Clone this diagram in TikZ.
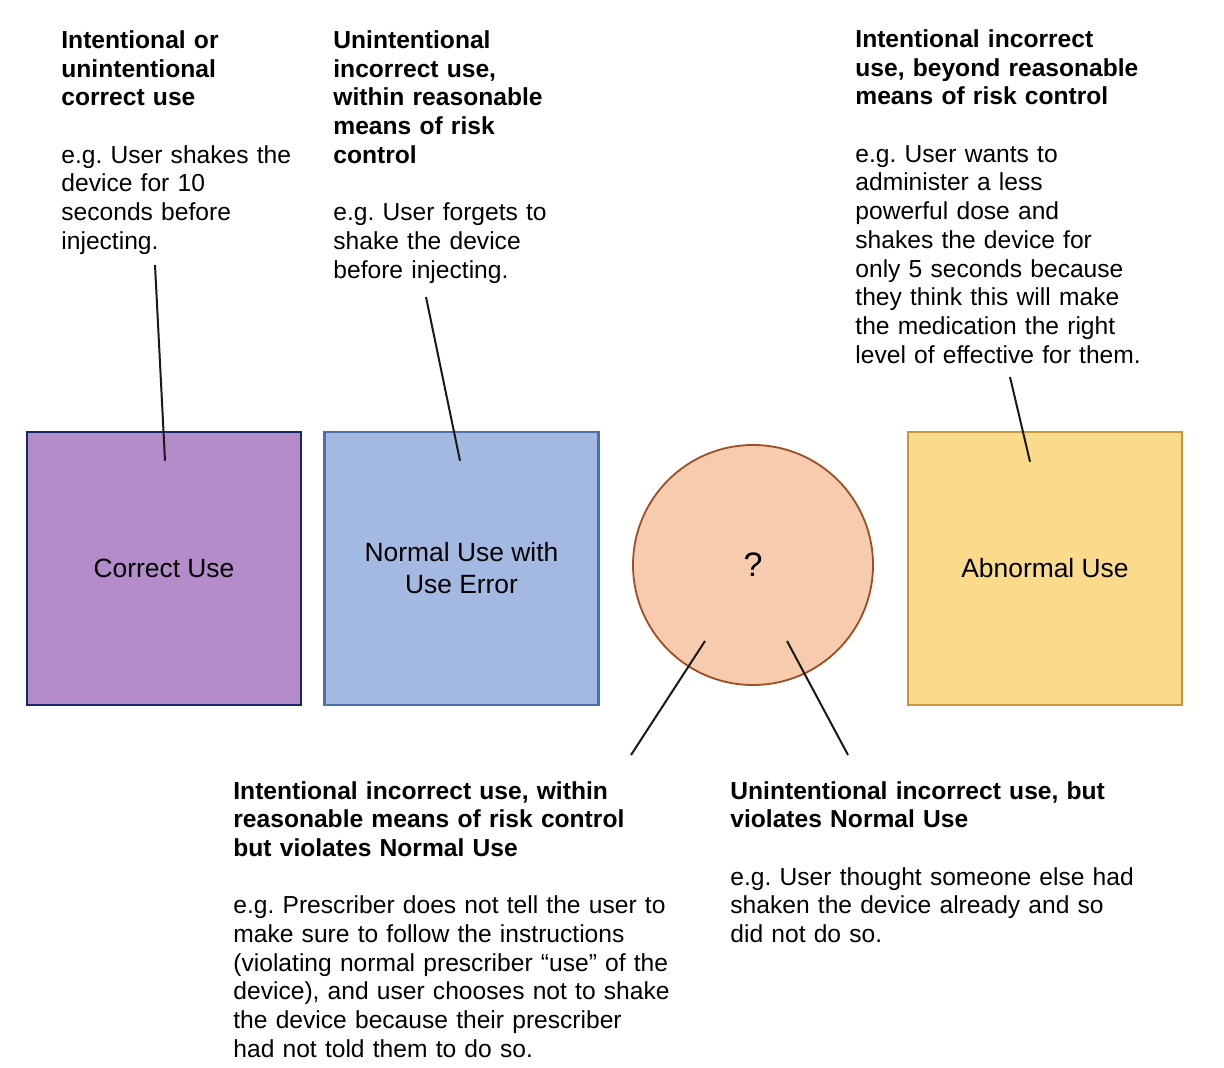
\documentclass[tikz,border=0pt]{standalone}
\usepackage{fontspec}
\setmainfont{Liberation Sans}
\usepackage{xcolor}
\usetikzlibrary{positioning,calc}

\definecolor{correctfill}{HTML}{B48CCA}
\definecolor{correctline}{HTML}{13296B}
\definecolor{normalfill}{HTML}{A4B9E2}
\definecolor{normalline}{HTML}{4B70B0}
\definecolor{queryfill}{HTML}{F7CBAE}
\definecolor{queryline}{HTML}{9C4E24}
\definecolor{abnormalfill}{HTML}{FADB8C}
\definecolor{abnormalline}{HTML}{C9973A}

\frenchspacing

\begin{document}
\begin{tikzpicture}[
        x=0.5pt, y=-0.5pt,
        usebox/.style={rectangle, line width=1.25pt, minimum width=137pt, minimum height=136.5pt, align=center, font=\fontsize{13.2}{16}\selectfont},
        qnode/.style={circle, line width=0.9pt, minimum size=120pt, inner sep=0pt, font=\fontsize{17}{20}\selectfont},
        note/.style={anchor=base west, inner sep=0pt, align=left, font=\fontsize{12.3}{14.35}\selectfont},
        pointer/.style={line width=1pt, draw=black!90}
    ]
        \useasboundingbox (0,0) rectangle (1224,1068);

        % Categories
        \node[usebox, draw=correctline, fill=correctfill] (correct) at (164,568.5) {Correct Use};
        \node[usebox, draw=normalline, fill=normalfill] (normal) at (461.5,568.5) {Normal Use with\\Use Error};
        \node[qnode, draw=queryline, fill=queryfill] (query) at (753,565) {?};
        \node[usebox, draw=abnormalline, fill=abnormalfill] (abnormal) at (1045,568.5) {Abnormal Use};

        % Descriptions
        \node[note, text width=135pt] (noteA) at (61,48.5) {{\bfseries Intentional or\\unintentional\\correct use}\\[14.35pt]
            e.g. User shakes the\\device for 10\\seconds before\\injecting.};
        \node[note, text width=130pt] (noteB) at (333,48.5) {{\bfseries Unintentional\\incorrect use,\\within reasonable\\means of risk\\control}\\[14.35pt]
            e.g. User forgets to\\shake the device\\before injecting.};
        \node[note, text width=160pt] (noteC) at (855,47.5) {{\bfseries Intentional incorrect\\use, beyond reasonable\\means of risk control}\\[14.35pt]
            e.g. User wants to\\administer a less\\powerful dose and\\shakes the device for\\only 5 seconds because\\they think this will make\\the medication the right\\level of effective for them.};
        \node[note, text width=230pt] (noteD) at (233,799) {{\bfseries Intentional incorrect use, within\\reasonable means of risk control\\but violates Normal Use}\\[14.35pt]
            e.g. Prescriber does not tell the user to\\make sure to follow the instructions\\(violating normal prescriber “use” of the\\device), and user chooses not to shake\\the device because their prescriber\\had not told them to do so.};
        \node[note, text width=225pt] (noteE) at (730,799) {{\bfseries Unintentional incorrect use, but\\violates Normal Use}\\[14.35pt]
            e.g. User thought someone else had\\shaken the device already and so\\did not do so.};

        % Pointer ends
        \coordinate (tipA) at (155,265);
        \coordinate (tipB) at (426,297);
        \coordinate (tipC) at (1010,377);
        \coordinate (tipD) at (631,755);
        \coordinate (tipE) at (848,755);

        % Pointers
        \draw[pointer] (tipA) -- ($(correct.north)+(1,30)$);
        \draw[pointer] (tipB) -- ($(normal.north)+(-1.5,30)$);
        \draw[pointer] (tipC) -- ($(abnormal.north)+(-15,31)$);
        \draw[pointer] (tipD) -- ($(query.center)+(-48,76)$);
        \draw[pointer] (tipE) -- ($(query.center)+(34,76)$);
    \end{tikzpicture}
\end{document}
